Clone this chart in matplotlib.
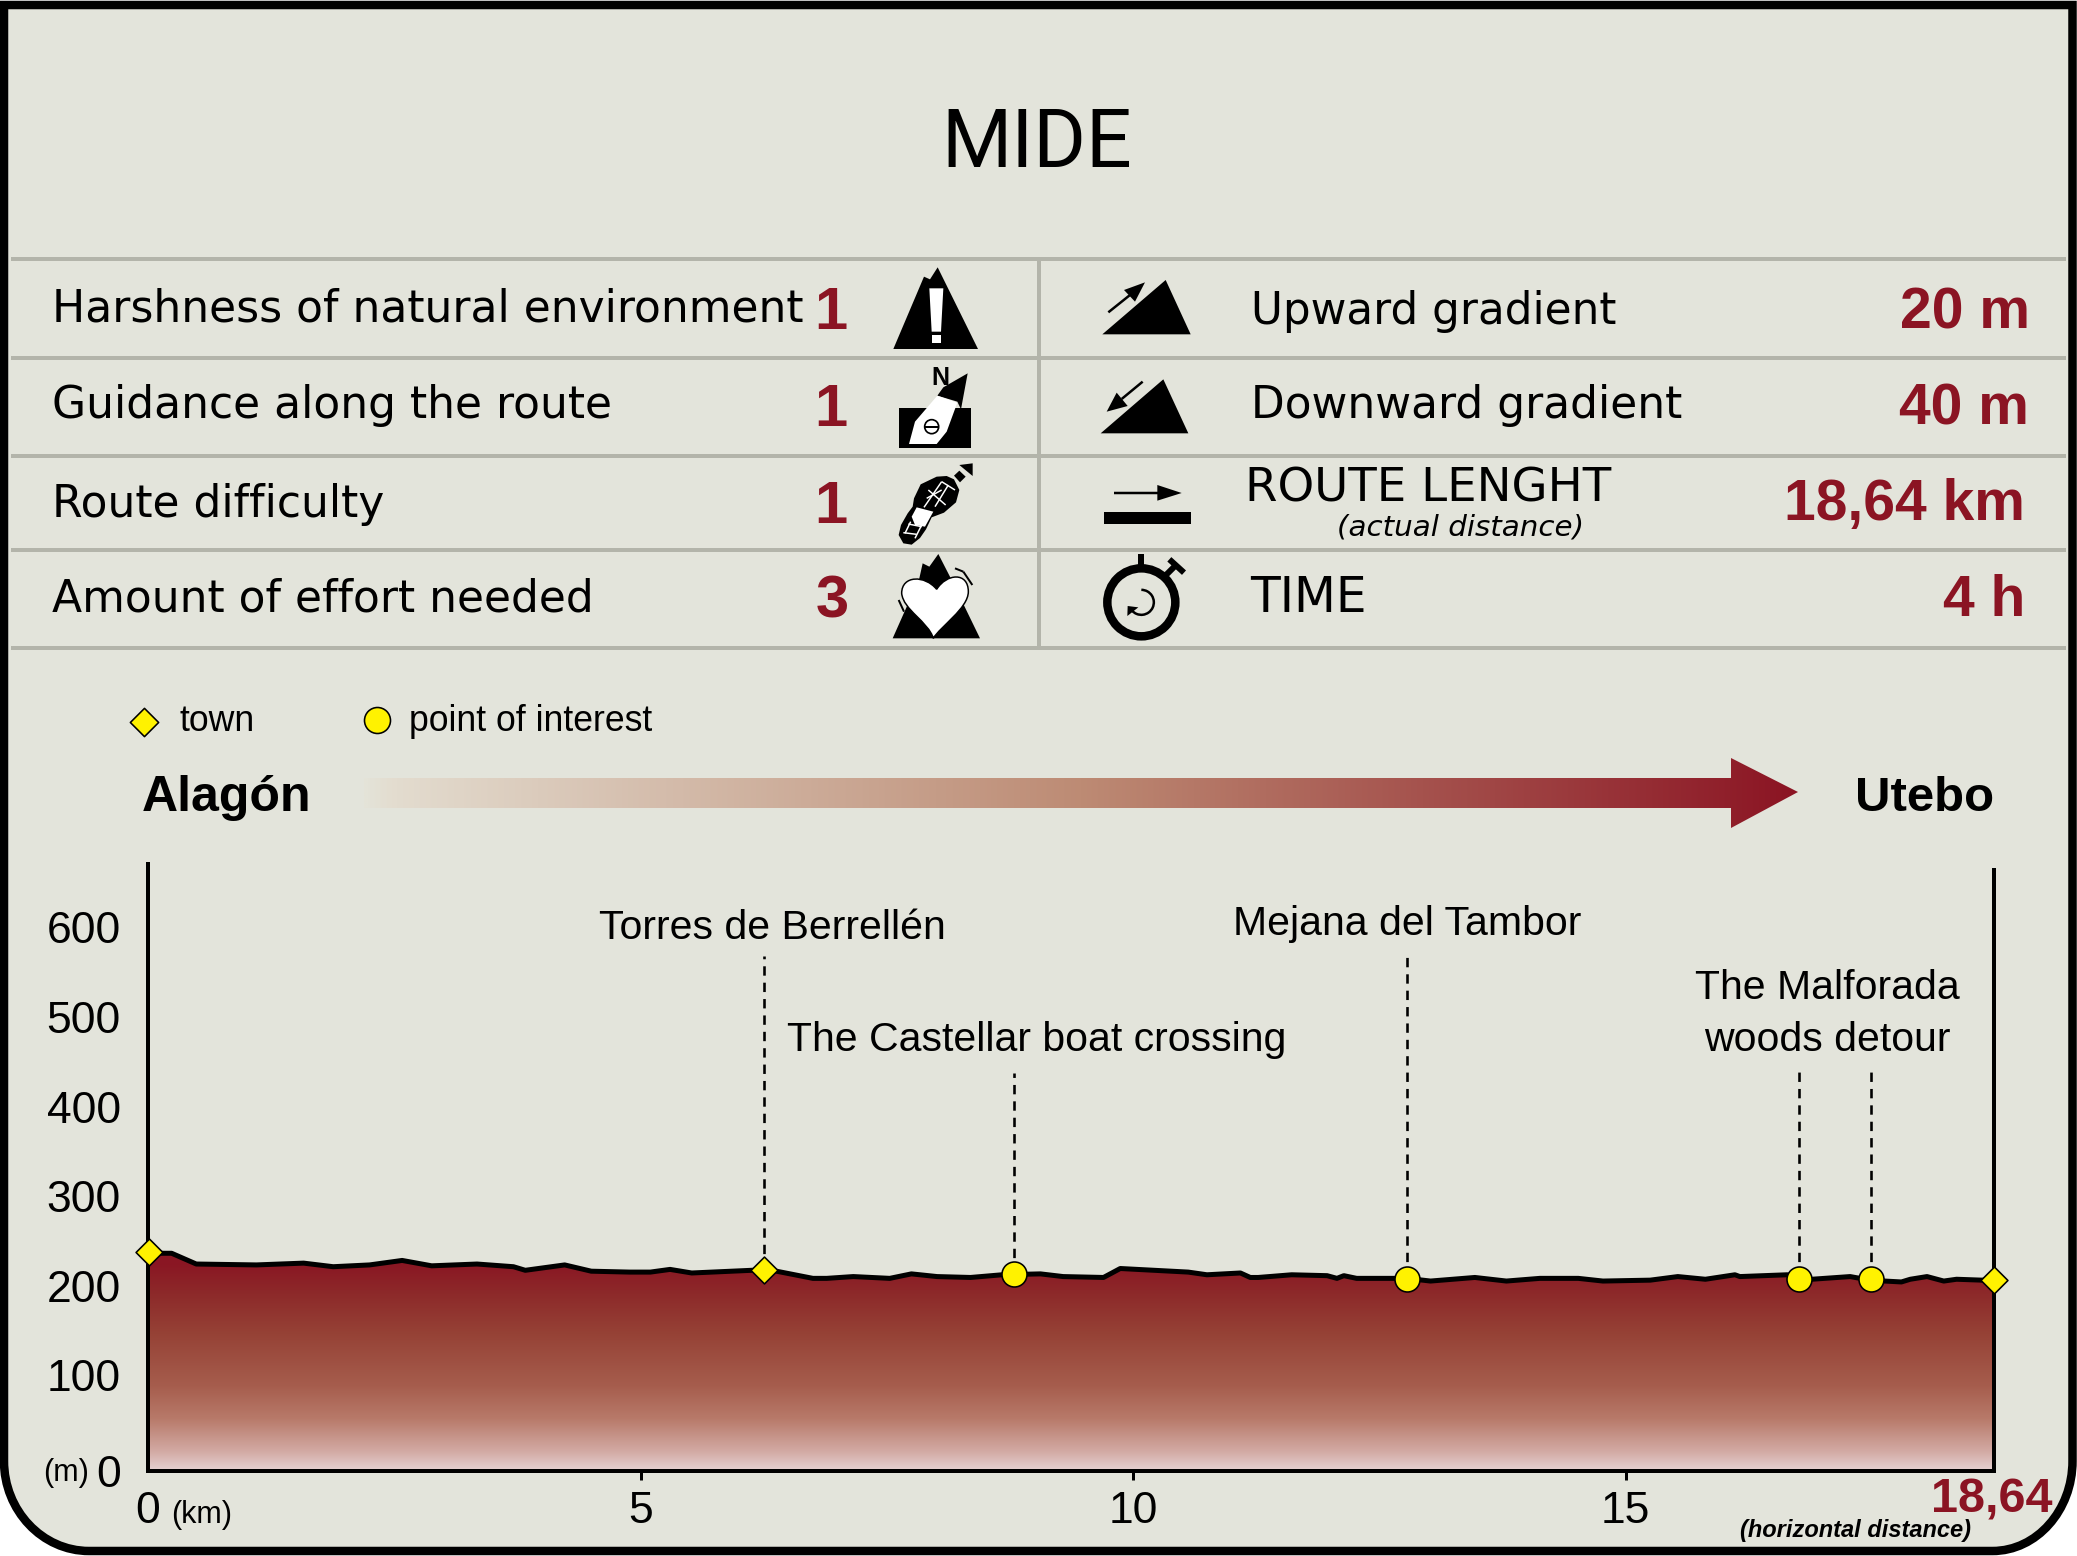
import numpy as np
import matplotlib
matplotlib.use("Agg")
import matplotlib.pyplot as plt
import matplotlib.patches as mp
from matplotlib.path import Path
from matplotlib.colors import LinearSegmentedColormap
from matplotlib.transforms import ScaledTranslation
from matplotlib import font_manager as fm

# ---------- data ----------
km = [0.00, 0.24, 0.49, 1.10, 1.58, 1.88, 2.25, 2.58, 2.88, 3.34, 3.71, 3.83, 4.23, 4.50, 4.89, 5.10, 5.30,
      5.52, 6.13, 6.38, 6.75, 6.89, 7.16, 7.53, 7.75, 8.01, 8.35, 8.67, 9.06, 9.29, 9.70, 9.87, 10.56, 10.75,
      11.09, 11.19, 11.27, 11.61, 11.97, 12.07, 12.14, 12.27, 12.78, 13.02, 13.47, 13.79, 14.13, 14.52, 14.77,
      15.25, 15.53, 15.81, 16.11, 16.16, 16.64, 16.89, 17.28, 17.38, 17.63, 17.80, 17.89, 18.06, 18.23, 18.36,
      18.62, 18.74]
elevation = [243, 243, 231, 230, 232, 228, 230, 235, 229, 231, 228, 224, 230, 223, 222, 222, 225,
             221, 224, 223, 215, 215, 217, 215, 220, 217, 216, 219, 220, 217, 216, 226, 222, 219,
             221, 216, 216, 219, 218, 215, 218, 215, 215, 212, 216, 212, 215, 215, 212,
             213, 217, 214, 219, 217, 219, 214, 217, 215, 212, 211, 214, 217, 212, 214,
             213, 213]
town_km = [0.01, 6.25, 18.74]
town_m = [244, 224, 213]
poi_km = [8.79, 12.78, 16.76, 17.49]
poi_m = [220, 214, 214, 214]
leader_km = [6.25, 8.79, 12.78, 16.76, 17.49]
leader_base = [224, 220, 215, 215, 215]
leader_top = [575, 444, 575, 447, 447]
chart_labels = ["Torres de Berrellén", "The Castellar boat crossing", "Mejana del Tambor",
                "The Malforada", "woods detour"]
chart_label_km = [6.34, 9.02, 12.78, 17.05, 17.05]
chart_label_m = [606, 481, 611, 539, 481]
y_ticks = [0, 100, 200, 300, 400, 500, 600]
x_ticks = [0, 5, 10, 15]
left_rows = ["Harshness of natural environment", "Guidance along the route", "Route difficulty",
             "Amount of effort needed"]
left_scores = ["1", "1", "1", "3"]
right_rows = ["Upward gradient", "Downward gradient", "ROUTE LENGHT", "TIME"]
right_sizes = [31.5, 31.6, 33.6, 35]
right_values = ["20 m", "40 m", "18,64 km", "4 h"]

# ---------- style ----------
W, H = 2077, 1556
BG = "#e3e4db"
RED = "#8b1423"
GRID = "#b3b4aa"
YEL = "#fff200"
SANS = "Liberation Sans"
names = {f.name for f in fm.fontManager.ttflist}
NARROW = "Liberation Sans Narrow" if "Liberation Sans Narrow" in names else SANS
PX = 72 / 100  # points per pixel at dpi 100

fig = plt.figure(figsize=(W / 100, H / 100), dpi=100, facecolor="white")
bg = fig.add_axes([0, 0, 1, 1], zorder=0)
bg.set_xlim(0, W)
bg.set_ylim(H, 0)
bg.axis("off")

# frame
L, R_, T, B = 4, 2072.5, 5, 1551
rx_l, rx_r, ry = 85, 80, 90
k = 0.55
verts = [(L, T), (R_, T), (R_, B - ry),
         (R_, B - ry + k * ry), (R_ - rx_r + k * rx_r, B), (R_ - rx_r, B),
         (L + rx_l, B),
         (L + rx_l - k * rx_l, B), (L, B - ry + k * ry), (L, B - ry),
         (L, T)]
codes = [Path.MOVETO, Path.LINETO, Path.LINETO, Path.CURVE4, Path.CURVE4, Path.CURVE4, Path.LINETO,
         Path.CURVE4, Path.CURVE4, Path.CURVE4, Path.CLOSEPOLY]
bg.add_patch(mp.PathPatch(Path(verts, codes), fc=BG, ec="black", lw=8.5 * PX, zorder=1))

# table rules
for y in [259, 358, 456, 550, 648]:
    bg.plot([11, 2066], [y, y], color=GRID, lw=4 * PX, solid_capstyle="butt", zorder=2)
bg.plot([1039, 1039], [259, 648], color=GRID, lw=4 * PX, solid_capstyle="butt", zorder=2)

# title
bg.text(1037, 167, "MIDE", ha="center", va="baseline", fontsize=58, family="Roboto",
        color="black", zorder=3)

# table text
for s, y in zip(left_rows, [321, 418, 517, 611]):
    bg.text(52, y, s, ha="left", va="baseline", fontsize=31.7, family="DejaVu Sans", zorder=3)
for s, y, x in zip(left_scores, [329, 426, 523, 617], [831, 831, 831, 832]):
    bg.text(x, y, s, ha="center", va="baseline", fontsize=43, family=SANS, weight="bold", color=RED, zorder=3)
for s, x, y, fs in zip(right_rows, [1251, 1251, 1245, 1250], [324, 418, 501, 612], right_sizes):
    bg.text(x, y, s, ha="left", va="baseline", fontsize=fs, family="DejaVu Sans", zorder=3)
bg.text(1461, 535, "(actual distance)", ha="center", va="baseline", fontsize=21.2, family="DejaVu Sans",
        style="italic", zorder=3)
for s, x, y in zip(right_values, [2030, 2029, 2025, 2025], [328, 424, 520, 616]):
    bg.text(x, y, s, ha="right", va="baseline", fontsize=41, family=SANS, weight="bold", color=RED, zorder=3)


# ---------- icons (zoom-crop coordinates of the table region) ----------
def z(pts):
    return [(800 + a / 3, 250 + b / 3) for a, b in pts]


def poly(pts, fc="black", ec="none", lw=0, zo=4):
    bg.add_patch(mp.Polygon(z(pts), closed=True, fc=fc, ec=ec, lw=lw, zorder=zo))


def seg(a, b, color="black", lw=2.0, zo=5):
    (x0, y0), (x1, y1) = z([a, b])
    bg.plot([x0, x1], [y0, y1], color=color, lw=lw * PX, solid_capstyle="butt", zorder=zo)


# warning mountain
poly([(280, 297), (372, 80), (390, 88), (413, 52), (534, 297)])
poly([(388, 115), (430, 115), (423, 245), (395, 245)], fc="white", zo=5)
poly([(395, 255), (424, 255), (424, 278), (395, 278)], fc="white", zo=5)
# compass
poly([(296, 475), (513, 475), (513, 593), (296, 593)])
poly([(503, 370), (490, 440), (483, 478), (472, 455), (412, 437), (430, 412)], zo=5)
poly([(412, 437), (472, 458), (440, 545), (410, 582), (327, 582), (345, 515)], fc="white", zo=5)
cx, cy = z([(395, 530)])[0]
bg.add_patch(mp.Circle((cx, cy), 7, fc="white", ec="black", lw=1.7 * PX, zorder=6))
seg((375, 530), (415, 530), lw=2, zo=7)
bg.text(800 + 422 / 3, 250 + 405 / 3, "N", ha="center", va="baseline", fontsize=18, family=SANS, weight="bold",
        zorder=6)
# boot
poly([(410, 680), (440, 678), (462, 688), (478, 720), (468, 757), (432, 788), (395, 802), (378, 838), (360, 864),
      (335, 884), (310, 880), (296, 855), (303, 825), (323, 790), (338, 770), (342, 745), (362, 703)])
poly([(335, 800), (350, 772), (400, 785), (375, 830), (345, 825)], fc="white", zo=5)
for a, b in [((385, 720), (437, 765)), ((425, 695), (465, 720)), ((425, 695), (372, 772)), ((445, 705), (405, 770)),
             ((380, 745), (425, 720)), ((332, 815), (315, 850)), ((365, 825), (345, 865)), ((310, 848), (350, 853)),
             ((325, 822), (365, 830))]:
    seg(a, b, color="white", lw=1.5)
poly([(462, 677), (478, 662), (497, 680), (480, 697)])
poly([(478, 645), (518, 640), (518, 678)])
# effort mountain with heart
poly([(278, 1165), (358, 985), (368, 940), (388, 950), (415, 912), (455, 990), (540, 1165)])
hx = [(410, 1018), (375, 975), (305, 975), (305, 1030), (310, 1080), (385, 1115), (400, 1165),
      (420, 1130), (505, 1075), (505, 1025), (505, 965), (440, 970), (410, 1018)]
hc = [Path.MOVETO] + [Path.CURVE4] * 12
bg.add_patch(mp.PathPatch(Path(z(hx), hc), fc="white", ec="black", lw=1.5 * PX, zorder=5))
seg((465, 955), (490, 965))
seg((490, 965), (517, 1005))
seg((296, 1050), (312, 1085))
# up slope
poly([(907, 253), (1097, 90), (1172, 253)])
seg((925, 187), (990, 135), lw=2.5)
poly([(1035, 97), (972, 120), (1005, 155)])
# down slope
poly([(902, 550), (1090, 388), (1165, 550)])
seg((1028, 395), (965, 447), lw=2.5)
poly([(920, 485), (950, 428), (983, 468)])
# length
seg((942, 729), (1080, 729), lw=2.5)
poly([(1072, 705), (1145, 729), (1072, 752)])
poly([(913, 787), (1172, 787), (1172, 822), (913, 822)])
# stopwatch
sx, sy = z([(1024, 1057)])[0]
bg.add_patch(mp.Circle((sx, sy), 34, fc="none", ec="black", lw=8.5 * PX, zorder=4))
poly([(1014, 912), (1032, 912), (1032, 945), (1014, 945)])
seg((1095, 978), (1128, 945), lw=6)
seg((1108, 928), (1152, 968), lw=6)
bg.add_patch(mp.Arc((sx, sy), 25, 25, theta1=-90, theta2=140, ec="black", lw=2.5 * PX, zorder=5))
poly([(982, 1098), (983, 1068), (1015, 1072)])

# ---------- legend and direction arrow ----------
bg.scatter([144], [722], marker="D", s=(20 * PX) ** 2, fc=YEL, ec="black", lw=1.6 * PX, zorder=4)
bg.scatter([377], [720], marker="o", s=(26 * PX) ** 2, fc=YEL, ec="black", lw=1.6 * PX, zorder=4)
bg.text(180, 731, "town", fontsize=25.7, family=SANS, va="baseline", zorder=4)
bg.text(409, 731, "point of interest", fontsize=25.7, family=SANS, va="baseline", zorder=4)
bg.text(142, 811, "Alagón", fontsize=36, family=SANS, weight="bold", va="baseline", zorder=4)
bg.text(1994, 811, "Utebo", fontsize=35.4, family=SANS, weight="bold", ha="right", va="baseline", zorder=4)

arrow_cmap = LinearSegmentedColormap.from_list("arrow", [(0, "#e4e3d8"), (0.02, "#e3dccf"), (0.5, "#bd8b74"), (1, RED)])
im = bg.imshow(np.linspace(0, 1, 512).reshape(1, -1), cmap=arrow_cmap, extent=(364, 1798, 828, 758),
               aspect="auto", zorder=3)
arrow = mp.Polygon([(364, 778), (1731, 778), (1731, 758), (1798, 792), (1731, 828), (1731, 808), (364, 808)],
                   closed=True, transform=bg.transData, fc="none", ec="none")
bg.add_patch(arrow)
im.set_clip_path(arrow)
bg.set_xlim(0, W)
bg.set_ylim(H, 0)

# ---------- profile chart ----------
ax_l, ax_r, ax_t, ax_b = 148, 1994, 864, 1471
ax = fig.add_axes([ax_l / W, 1 - ax_b / H, (ax_r - ax_l) / W, (ax_b - ax_t) / H], zorder=2)
ax.patch.set_alpha(0)
XMAX = km[-1]
YMAX = (ax_b - ax_t) / 0.896
ax.set_xlim(0, XMAX)
ax.set_ylim(0, YMAX)

profile_cmap = LinearSegmentedColormap.from_list(
    "profile", [(0, "#e6d2d3"), (0.09, "#d3aba5"), (0.25, "#b87a6a"), (0.41, "#a65d4d"),
                (0.66, "#964236"), (0.85, "#8d2a2a"), (1, "#8a1623")])
grad = ax.imshow(np.linspace(1, 0, 256).reshape(-1, 1), cmap=profile_cmap, extent=(0, XMAX, 0, 232),
                 aspect="auto", zorder=1)
top = ax.imshow(np.ones((1, 1)), cmap=LinearSegmentedColormap.from_list("t", ["#8a1623", "#8a1623"]),
                extent=(0, XMAX, 232, 250), aspect="auto", zorder=1)
fill = ax.fill_between(km, 0, elevation, color="none", lw=0)
clip = mp.PathPatch(fill.get_paths()[0], transform=ax.transData, fc="none", ec="none")
ax.add_patch(clip)
grad.set_clip_path(clip)
top.set_clip_path(clip)
ax.set_xlim(0, XMAX)
ax.set_ylim(0, YMAX)

ax.plot(km, elevation, color="black", lw=5 * PX, solid_joinstyle="round", zorder=3, clip_on=False)
ax.vlines(leader_km, leader_base, leader_top, color="black", lw=2.6 * PX, linestyles=(0, (3.6, 2.7)), zorder=2)
ax.scatter(town_km, town_m, marker="D", s=(19 * PX) ** 2, fc=YEL, ec="black", lw=1.6 * PX, zorder=5, clip_on=False)
ax.scatter(poi_km, poi_m, marker="o", s=(25 * PX) ** 2, fc=YEL, ec="black", lw=1.6 * PX, zorder=5, clip_on=False)
for s, x, y in zip(chart_labels, chart_label_km, chart_label_m):
    ax.text(x, y, s, ha="center", va="center", fontsize=29.5, family=SANS, zorder=4)

ax.spines["top"].set_visible(False)
for sp in ["left", "right", "bottom"]:
    ax.spines[sp].set_linewidth(4 * PX)
ax.spines["right"].set_bounds(0, (ax_b - 870) / 0.896)

ax.set_yticks(y_ticks)
ax.set_yticklabels([str(v) for v in y_ticks], fontsize=32, family=SANS)
ax.tick_params(axis="y", length=0, pad=27 * PX)
shift = ScaledTranslation(0, 6 / 100, fig.dpi_scale_trans)
for v, lab in zip(y_ticks, ax.get_yticklabels()):
    if v:
        lab.set_transform(lab.get_transform() + shift)
ax.set_xticks(x_ticks)
ax.set_xticklabels([str(v) for v in x_ticks], fontsize=32, family=SANS)
ax.tick_params(axis="x", length=9 * PX, width=3 * PX, pad=11 * PX)
ax.xaxis.get_major_ticks()[0].tick1line.set_visible(False)

bg.text(43, 1481, "(m)", fontsize=22, family=SANS, va="baseline", zorder=4)
bg.text(171, 1523, "(km)", fontsize=22, family=SANS, va="baseline", zorder=4)
bg.text(2052, 1512, "18,64", ha="right", va="baseline", fontsize=35, family=SANS, weight="bold", color=RED, zorder=4)
bg.text(1856, 1537, "(horizontal distance)", ha="center", va="baseline", fontsize=17, family=NARROW, weight="bold",
        style="italic", zorder=4)

fig.savefig("out.png", dpi=100, facecolor="white")
